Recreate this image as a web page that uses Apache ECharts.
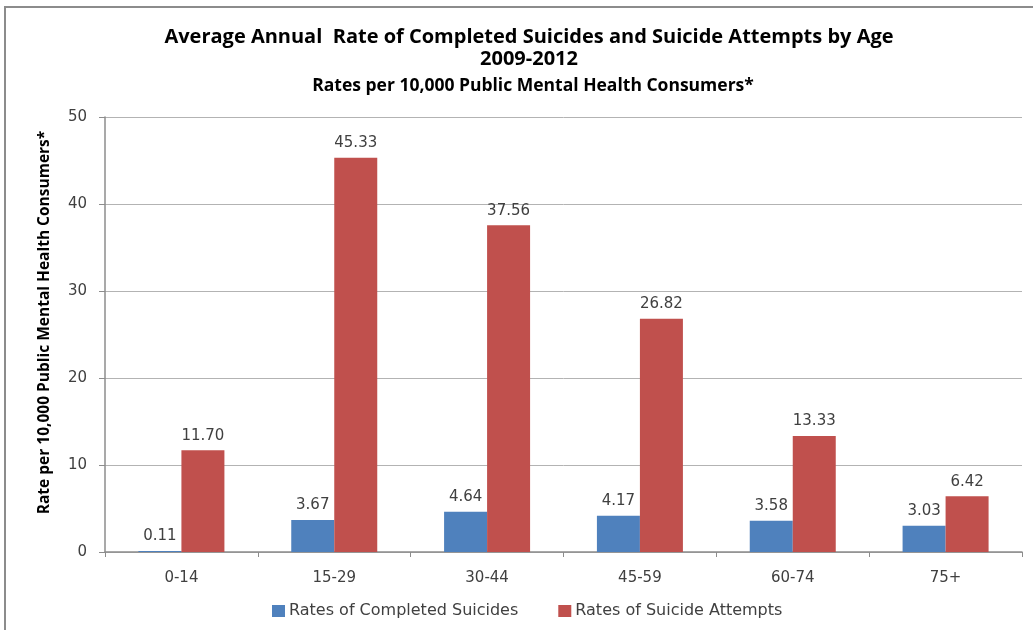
<!DOCTYPE html>
<html>
<head>
<meta charset="utf-8">
<script src="https://cdn.jsdelivr.net/npm/echarts@6/dist/echarts.min.js"></script>
<style>
  html, body { margin: 0; padding: 0; background: #fff; }
  #frame { position: absolute; left: 4px; top: 6px; width: 1029px; height: 624px;
           border-top: 2px solid #8c8c8c; border-left: 2px solid #8c8c8c; box-sizing: border-box; }
  #chart { position: absolute; left: 0; top: 0; width: 1033px; height: 630px; }
</style>
</head>
<body>
<div id="frame"></div>
<div id="chart"></div>
<script>
// Age groups and average annual rates per 10,000 consumers, 2009-2012
const ageGroups = ['0-14', '15-29', '30-44', '45-59', '60-74', '75+'];
const completedSuicides = [0.11, 3.67, 4.64, 4.17, 3.58, 3.03];
const suicideAttempts = [11.70, 45.33, 37.56, 26.82, 13.33, 6.42];
const yTicks = [0, 10, 20, 30, 40, 50];

const chart = echarts.init(document.getElementById('chart'), null, { renderer: 'canvas' });

const labelStyle = {
  show: true,
  position: 'top',
  distance: 7,
  color: '#404040',
  fontFamily: 'DejaVu Sans',
  fontSize: 15,
  formatter: p => p.value.toFixed(2)
};

chart.setOption({
  backgroundColor: 'transparent',
  animation: false,
  title: [
    {
      text: 'Average Annual  Rate of Completed Suicides and Suicide Attempts by Age\n2009-2012',
      left: 524, top: 21, textAlign: 'center',
      textStyle: { fontFamily: 'Open Sans', fontWeight: 'bold', fontSize: 20, color: '#000', lineHeight: 22 }
    },
    {
      text: 'Rates per 10,000 Public Mental Health Consumers*',
      left: 528, top: 72, textAlign: 'center',
      textStyle: { fontFamily: 'Open Sans', fontWeight: 'bold', fontSize: 17.5, color: '#000' }
    }
  ],
  legend: {
    bottom: 6, left: 267, itemGap: 40,
    itemWidth: 13, itemHeight: 12, icon: 'rect',
    textStyle: { fontFamily: 'DejaVu Sans', fontSize: 16, color: '#404040', padding: [0, 0, 0, -1] },
    data: ['Rates of Completed Suicides', 'Rates of Suicide Attempts']
  },
  grid: { left: 105, right: 11, top: 117, bottom: 78 },
  xAxis: {
    type: 'category',
    data: ageGroups,
    axisLine: { lineStyle: { color: '#8c8c8c', width: 1.5 } },
    axisTick: { show: true, length: 5, lineStyle: { color: '#8c8c8c' } },
    axisLabel: { margin: 19, color: '#404040', fontFamily: 'DejaVu Sans', fontSize: 15 }
  },
  yAxis: {
    type: 'value',
    min: yTicks[0], max: yTicks[yTicks.length - 1], interval: 10,
    name: 'Rate per 10,000 Public Mental Health Consumers*',
    nameLocation: 'middle', nameGap: 52, nameRotate: 90,
    nameTextStyle: { fontFamily: 'Open Sans', fontWeight: 'bold', fontSize: 15.5, color: '#000', padding: [0, 0, 0, 24] },
    axisLine: { show: true, lineStyle: { color: '#8c8c8c', width: 1.5 } },
    axisTick: { show: true, length: 6, lineStyle: { color: '#8c8c8c' } },
    axisLabel: { margin: 18, color: '#404040', fontFamily: 'DejaVu Sans', fontSize: 15 },
    splitLine: { lineStyle: { color: '#b3b3b3', width: 1 } }
  },
  series: [
    {
      name: 'Rates of Completed Suicides', type: 'bar',
      data: completedSuicides, barWidth: 43, barGap: '0%',
      itemStyle: { color: '#4f81bd' },
      label: labelStyle
    },
    {
      name: 'Rates of Suicide Attempts', type: 'bar',
      data: suicideAttempts, barWidth: 43, barGap: '0%',
      itemStyle: { color: '#c0504d' },
      label: labelStyle
    }
  ]
});
</script>
</body>
</html>
